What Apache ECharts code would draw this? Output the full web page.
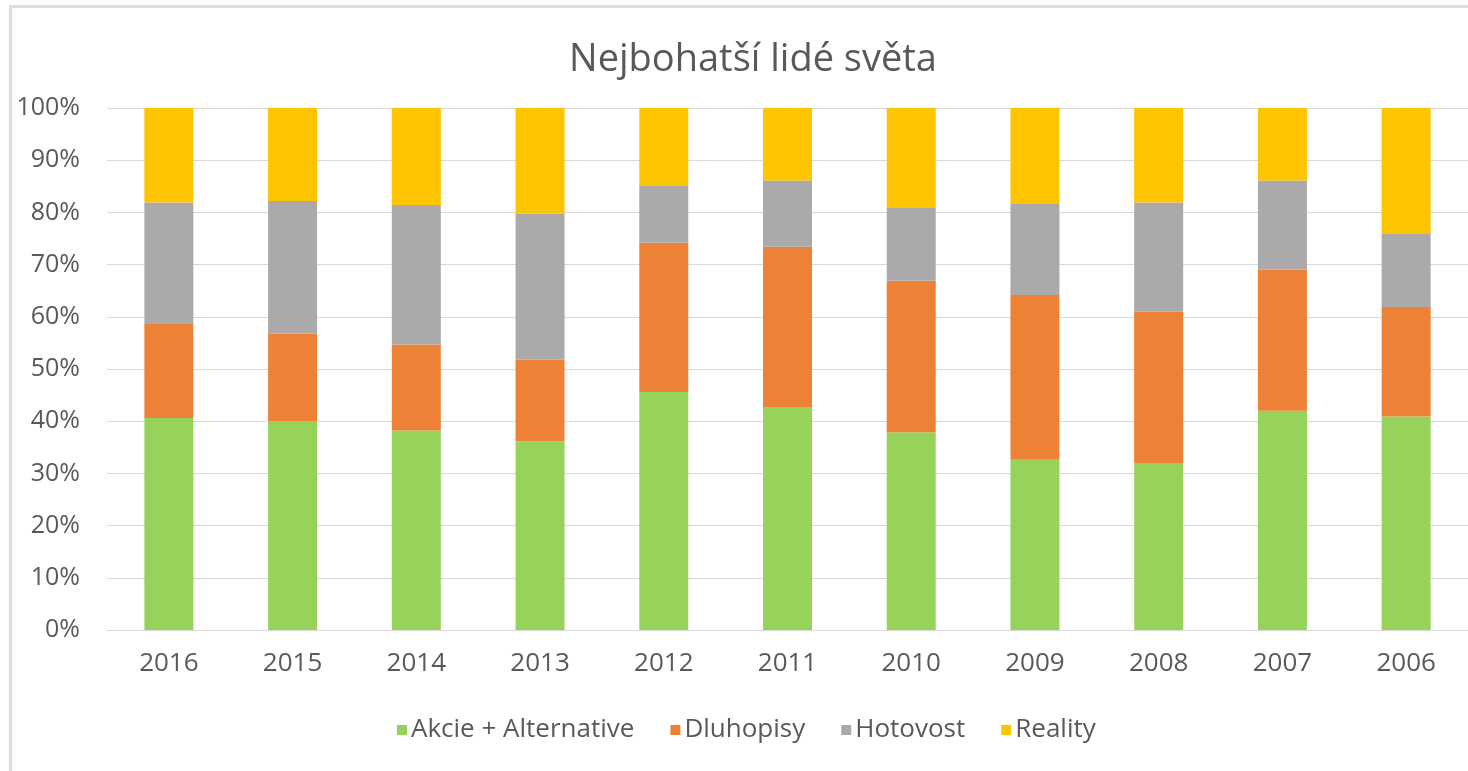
<!DOCTYPE html>
<html>
<head>
<meta charset="utf-8">
<script src="https://cdn.jsdelivr.net/npm/echarts@6/dist/echarts.min.js"></script>
<style>
html,body{margin:0;padding:0;background:#fff;overflow:hidden;}
#frame{position:absolute;left:9px;top:5px;width:1500px;height:800px;border-left:3px solid #dedede;border-top:3px solid #dedede;}
#chart{position:absolute;left:0;top:0;width:1468px;height:771px;}
</style>
</head>
<body>
<div id="frame"></div>
<div id="chart"></div>
<script>
const categories = ['2016','2015','2014','2013','2012','2011','2010','2009','2008','2007','2006'];
const akcie     = [40.6, 40.0, 38.2, 36.1, 45.6, 42.7, 37.9, 32.6, 32.0, 42.0, 40.9];
const dluhopisy = [18.0, 16.8, 16.5, 15.7, 28.6, 30.7, 29.0, 31.6, 29.0, 27.0, 21.0];
const hotovost  = [23.3, 25.4, 26.7, 28.0, 11.0, 12.7, 14.1, 17.4, 20.9, 17.1, 14.1];
const reality   = [18.1, 17.8, 18.6, 20.2, 14.8, 13.9, 19.0, 18.4, 18.1, 13.9, 24.0];
const seriesNames = ['Akcie + Alternative', 'Dluhopisy', 'Hotovost', 'Reality'];
const colors = ['#97d35a', '#ed8236', '#aaaaaa', '#ffc400'];
const yTicks = [0,10,20,30,40,50,60,70,80,90,100];

const FONT = "'Open Sans', 'Noto Sans', sans-serif";
const chart = echarts.init(document.getElementById('chart'));
const dataSets = [akcie, dluhopisy, hotovost, reality];
chart.setOption({
  animation: false,
  textStyle: {fontFamily: FONT},
  title: {
    text: 'Nejbohatší lidé světa',
    left: 748, textAlign: 'center', top: 36,
    textStyle: {fontFamily: FONT, fontSize: 38, fontWeight: 'normal', color: '#595959'}
  },
  legend: {
    top: 712, left: 392,
    itemWidth: 10, itemHeight: 10, itemGap: 36,
    icon: 'rect',
    textStyle: {fontFamily: FONT, fontSize: 26, color: '#595959', padding: [0,0,0,-1]},
    data: seriesNames
  },
  grid: {left: 107, right: -2, top: 108, bottom: 141},
  xAxis: {
    type: 'category', data: categories,
    axisLine: {lineStyle: {color: '#d9d9d9', width: 1}},
    axisTick: {show: false},
    axisLabel: {fontFamily: FONT, fontSize: 26, color: '#595959', margin: 21}
  },
  yAxis: {
    type: 'value', min: 0, max: 100, interval: 10,
    axisLine: {show: false}, axisTick: {show: false},
    splitLine: {lineStyle: {color: '#d9d9d9', width: 1}},
    axisLabel: {fontFamily: FONT, fontSize: 25, color: '#595959', margin: 27,
      formatter: v => yTicks.includes(v) ? v + '%' : ''}
  },
  series: seriesNames.map((n, i) => ({
    name: n, type: 'bar', stack: 'total', barWidth: '39.6%',
    itemStyle: {color: colors[i]},
    data: dataSets[i]
  }))
});
</script>
</body>
</html>
